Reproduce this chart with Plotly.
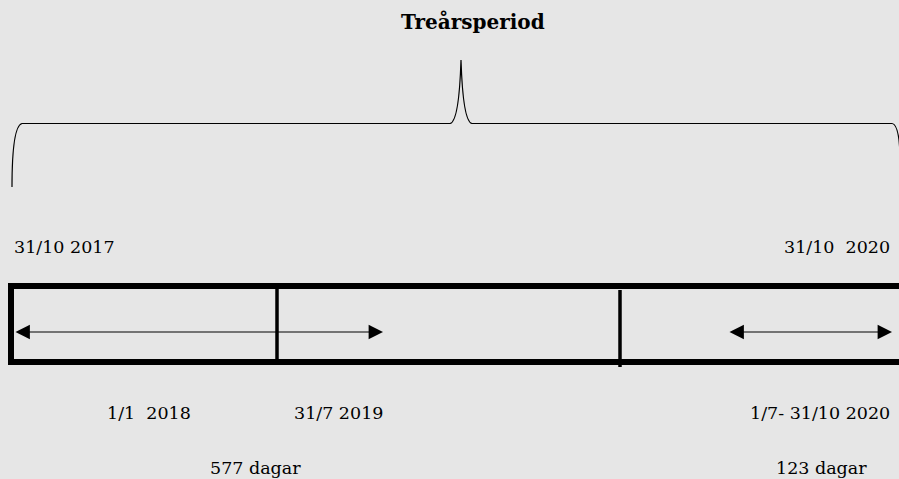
import plotly.graph_objects as go

# --- content ---
title_text = "Treårsperiod"
top_labels = ["31/10 2017", "31/10  2020"]
bottom_labels = ["1/1  2018", "31/7 2019", "1/7- 31/10 2020"]
day_labels = ["577 dagar", "123 dagar"]

# --- layout geometry (pixel-like coordinates, y downward) ---
W, H = 899, 479
box_x = [11, 906]
box_y = [286, 362]
dividers = [(277, 283, 360), (620, 290, 367)]
arrows = [(14, 383, 332), (728, 892, 332)]
top_label_pos = [(12, 247, "left"), (892, 247, "right")]
bottom_label_pos = [(105, 413, "left"), (292, 413, "left"), (892, 413, "right")]
day_label_pos = [(208, 468, "left"), (869, 468, "right")]

FONT = "DejaVu Serif"
BG = "#e6e6e6"
LABEL_SIZE = 17.5

fig = go.Figure()
fig.add_trace(go.Scatter(x=[0, W], y=[0, H], mode="markers",
                         marker=dict(opacity=0), hoverinfo="skip", showlegend=False))

shapes = []
# brace
brace = ("M 12,187 Q 12,126 22,123.5 L 450,123.5 Q 459,122 461,60 "
         "Q 463,122 472,123.5 L 892,123.5 Q 897,124 899,140 L 902,175")
shapes.append(dict(type="path", path=brace, xref="x", yref="y",
                   line=dict(color="black", width=1.2)))
# box
shapes.append(dict(type="rect", xref="x", yref="y", x0=box_x[0], x1=box_x[1],
                   y0=box_y[0], y1=box_y[1], line=dict(color="black", width=6)))
for x, y0, y1 in dividers:
    shapes.append(dict(type="line", xref="x", yref="y", x0=x, x1=x, y0=y0, y1=y1,
                       line=dict(color="black", width=3.5)))

annotations = []
annotations.append(dict(x=473, y=22, xref="x", yref="y", text="<b>" + title_text + "</b>",
                        showarrow=False, font=dict(family=FONT, size=20, color="black"),
                        xanchor="center", yanchor="middle"))
for (x0, x1, y) in arrows:
    annotations.append(dict(x=x1, y=y, ax=x0, ay=y, xref="x", yref="y", axref="x", ayref="y",
                            text="", showarrow=True, arrowhead=2, startarrowhead=2,
                            arrowside="end+start", arrowwidth=1.2, arrowsize=2.4,
                            startarrowsize=2.4, arrowcolor="black", standoff=0, startstandoff=0))
for txt, (x, y, anc) in zip(top_labels, top_label_pos):
    annotations.append(dict(x=x, y=y, xref="x", yref="y", text=txt, showarrow=False,
                            font=dict(family=FONT, size=LABEL_SIZE, color="black"),
                            xanchor=anc, yanchor="middle"))
for txt, (x, y, anc) in zip(bottom_labels, bottom_label_pos):
    annotations.append(dict(x=x, y=y, xref="x", yref="y", text=txt, showarrow=False,
                            font=dict(family=FONT, size=LABEL_SIZE, color="black"),
                            xanchor=anc, yanchor="middle"))
for txt, (x, y, anc) in zip(day_labels, day_label_pos):
    annotations.append(dict(x=x, y=y, xref="x", yref="y", text=txt, showarrow=False,
                            font=dict(family=FONT, size=LABEL_SIZE, color="black"),
                            xanchor=anc, yanchor="middle"))

fig.update_layout(
    width=W, height=H, margin=dict(l=0, r=0, t=0, b=0),
    paper_bgcolor=BG, plot_bgcolor=BG,
    xaxis=dict(range=[0, W], visible=False, fixedrange=True),
    yaxis=dict(range=[H, 0], visible=False, fixedrange=True),
    shapes=shapes, annotations=annotations, showlegend=False,
)
fig.write_html("out.html", config={"displayModeBar": False},
               post_script="document.body.style.margin='0';document.body.style.overflow='hidden';")
